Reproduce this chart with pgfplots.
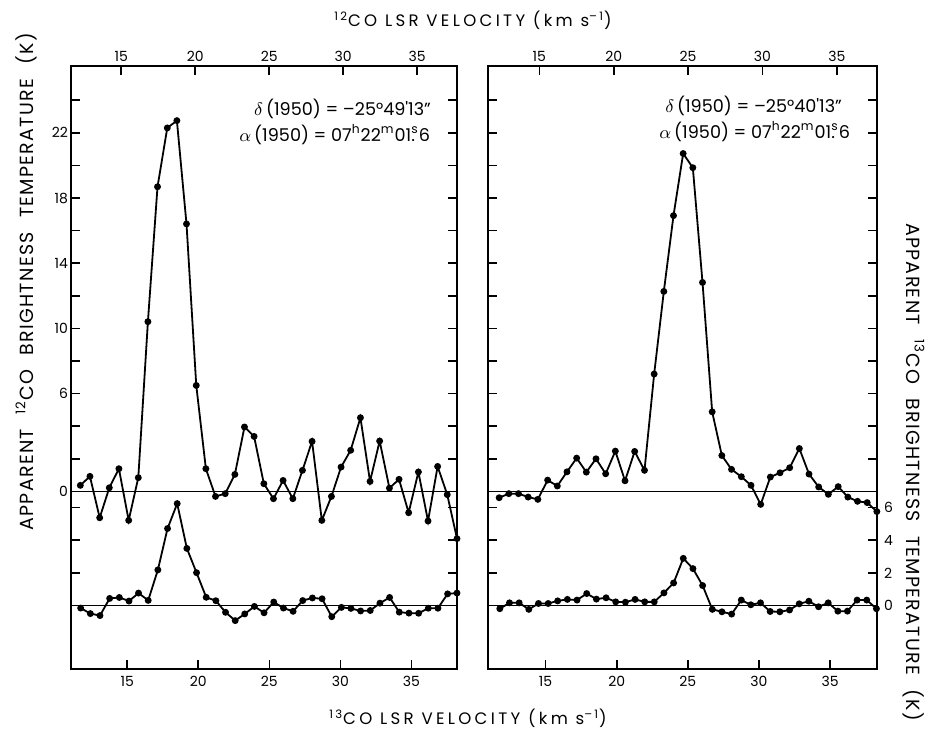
\documentclass[border=0pt]{standalone}
\usepackage{fontspec}
\setmainfont{Poppins}
\newfontfamily\spacedx[LetterSpace=20]{Poppins}
\newfontfamily\spacedy[LetterSpace=7]{Poppins}
\usepackage{pgfplots}
\usepackage{pgfplotstable}
\pgfplotsset{compat=1.18}

% 12CO (left position)
\pgfplotstableread{
v T
12.23 0.37
12.88 0.92
13.54 -1.62
14.19 0.22
14.84 1.39
15.50 -1.78
16.15 0.84
16.80 10.41
17.45 18.69
18.11 22.30
18.76 22.75
19.41 16.41
20.07 6.50
20.72 1.39
21.37 -0.31
22.03 -0.14
22.68 1.04
23.33 3.95
23.98 3.37
24.64 0.47
25.29 -0.45
25.94 0.67
26.60 -0.45
27.25 1.29
27.90 3.07
28.56 -1.78
29.21 -0.31
29.86 1.49
30.51 2.52
31.17 4.52
31.82 0.61
32.47 3.09
33.13 0.20
33.78 0.74
34.43 -1.31
35.09 1.19
35.74 -1.82
36.39 1.53
37.04 -0.20
37.70 -2.90
}\lefttwelve

% 13CO (left position)
\pgfplotstableread{
v T
11.73 -0.16
12.41 -0.50
13.09 -0.62
13.77 0.43
14.45 0.49
15.13 0.27
15.80 0.76
16.48 0.31
17.16 2.18
17.84 4.72
18.52 6.25
19.20 3.50
19.88 2.01
20.56 0.50
21.24 0.29
21.92 -0.42
22.60 -0.93
23.27 -0.52
23.95 -0.06
24.63 -0.45
25.31 0.21
25.99 -0.16
26.67 -0.36
27.35 0.30
28.03 0.46
28.71 0.41
29.39 -0.69
30.07 -0.12
30.74 -0.18
31.42 -0.34
32.10 -0.31
32.78 0.14
33.46 0.49
34.14 -0.41
34.82 -0.47
35.50 -0.48
36.18 -0.17
36.86 -0.17
37.54 0.71
38.20 0.76
}\leftthirteen

% 12CO (right position)
\pgfplotstableread{
v T
12.30 -0.39
12.95 -0.14
13.60 -0.14
14.25 -0.35
14.90 -0.49
15.56 0.69
16.21 0.33
16.86 1.20
17.51 2.04
18.16 1.18
18.81 2.00
19.46 1.08
20.11 2.47
20.76 0.65
21.41 2.45
22.07 1.29
22.72 7.20
23.37 12.27
24.02 16.92
24.67 20.73
25.32 19.86
25.97 12.82
26.62 4.88
27.27 2.20
27.92 1.35
28.58 0.90
29.23 0.37
29.88 -0.80
30.53 0.88
31.18 1.14
31.83 1.45
32.48 2.63
33.13 1.06
33.78 0.27
34.43 -0.18
35.09 0.29
35.74 -0.35
36.39 -0.61
37.04 -0.69
37.69 -1.24
}\righttwelve

% 13CO (right position)
\pgfplotstableread{
v T
11.78 -0.20
12.46 0.16
13.14 0.16
13.82 -0.24
14.50 0.12
15.18 0.12
15.85 0.28
16.53 0.37
17.21 0.33
17.89 0.73
18.57 0.39
19.25 0.47
19.93 0.22
20.61 0.20
21.29 0.37
21.97 0.22
22.64 0.22
23.32 0.77
24.00 1.38
24.68 2.89
25.36 2.26
26.04 1.22
26.72 -0.24
27.40 -0.39
28.08 -0.53
28.76 0.33
29.43 0.04
30.11 0.16
30.79 -0.37
31.47 -0.39
32.15 -0.28
32.83 0.10
33.51 0.26
34.19 -0.08
34.87 0.16
35.55 -0.35
36.22 -0.35
36.90 0.33
37.58 0.33
38.26 -0.20
}\rightthirteen

\newcommand{\tk}{\fontsize{7}{8}\selectfont}
\newcommand{\xl}{\spacedx\fontsize{8.3}{9}\selectfont}
\newcommand{\yl}{\spacedy\fontsize{9.5}{10}\selectfont}
\newcommand{\an}{\fontsize{8.8}{9}\selectfont}
\newcommand{\gap}{\hspace{0.75em}}
% reference pixel -> picture point (0.5pt per pixel, y downward)
\newcommand{\px}[2]{({#1*0.5pt},{-#2*0.5pt})}

\tikzset{zero/.style={black, line width=0.6pt}}
\pgfplotsset{
  spec/.style={
    scale only axis, clip=false,
    ymin=-10.9, ymax=26.1,
    axis line style={line width=0.9pt},
    tick style={line width=0.8pt, black},
    tick align=inside, major tick length=4.5pt,
    /pgf/number format/assume math mode=true,
    ticklabel style={font=\tk},
    xtick={15,20,25,30,35},
  },
  ytwelve/.style={
    ytick={-5,-3,-1,0,2,4,6,8,10,12,14,16,18,20,22,24},
    ytick pos=both,
  },
  spectrum/.style={black, line width=0.9pt, mark=*, mark size=1.25pt},
}

\begin{document}
\begin{tikzpicture}
\useasboundingbox (0,0) rectangle (466.5pt,-367pt);

% ---- left position: 12CO against the top axis
\begin{axis}[spec, ytwelve, at={(35.5pt,-334.5pt)}, anchor=south west,
  width=193pt, height=301.5pt,
  xmin=11.6, xmax=37.7, xtick pos=right, xticklabel pos=right,
  xticklabel style={yshift=-1.5pt},
  yticklabels={,,,0,,,6,,10,,14,,18,,22,}, yticklabel pos=left,
  yticklabel style={xshift=2pt}]
\draw[zero] (axis cs:11.6,0) -- (axis cs:37.7,0);
\addplot[spectrum] table[x=v, y=T] {\lefttwelve};
\end{axis}
% ---- left position: 13CO against the bottom axis, zero at -7
\begin{axis}[spec, at={(35.5pt,-334.5pt)}, anchor=south west,
  width=193pt, height=301.5pt,
  xmin=11.05, xmax=38.2, xtick pos=left, xticklabel pos=left,
  ytick=\empty]
\draw[zero] (axis cs:11.05,-7) -- (axis cs:38.2,-7);
\addplot[spectrum] table[x=v, y expr=\thisrow{T}-7] {\leftthirteen};
\end{axis}

% ---- right position: 12CO against the top axis
\begin{axis}[spec, ytwelve, at={(244pt,-334.5pt)}, anchor=south west,
  width=194.5pt, height=301.5pt,
  xmin=11.55, xmax=37.7, xtick pos=right, xticklabel pos=right,
  xticklabel style={yshift=-1.5pt},
  yticklabels={}]
\draw[zero] (axis cs:11.55,0) -- (axis cs:37.7,0);
\addplot[spectrum] table[x=v, y=T] {\righttwelve};
\end{axis}
% ---- right position: 13CO against the bottom axis, labels on the right
\begin{axis}[spec, at={(244pt,-334.5pt)}, anchor=south west,
  width=194.5pt, height=301.5pt,
  xmin=10.95, xmax=38.3, xtick pos=left, xticklabel pos=left,
  ytick={-7,-5,-3,-1}, yticklabels={0,2,4,6},
  ytick pos=right, yticklabel pos=right]
\draw[zero] (axis cs:10.95,-7) -- (axis cs:38.3,-7);
\addplot[spectrum] table[x=v, y expr=\thisrow{T}-7] {\rightthirteen};
\end{axis}

% axis titles
\node[font=\xl] at \px{473}{20} {\textsuperscript{12}CO LSR VELOCITY (km s\textsuperscript{–1})};
\node[font=\xl] at \px{468}{718} {\textsuperscript{13}CO LSR VELOCITY (km s\textsuperscript{–1})};
\node[font=\yl, rotate=90] at \px{26}{282}
  {APPARENT\gap\textsuperscript{12}CO\gap BRIGHTNESS\gap TEMPERATURE\gap(K)};
\node[font=\yl, rotate=-90] at \px{914}{472}
  {APPARENT\gap\textsuperscript{13}CO\gap BRIGHTNESS\gap TEMPERATURE\gap(K)};

% positions
\node[font=\an, anchor=base east] at \px{438}{115}
  {$\delta$\,(1950) = –25°49\textquotesingle13"};
\node[font=\an, anchor=base east] at \px{437}{141}
  {$\alpha$\,(1950) = 07\textsuperscript{h}22\textsuperscript{m}01\rlap{.}\textsuperscript{s}6};
\node[font=\an, anchor=base east] at \px{849}{112}
  {$\delta$\,(1950) = –25°40\textquotesingle13"};
\node[font=\an, anchor=base east] at \px{857}{138}
  {$\alpha$\,(1950) = 07\textsuperscript{h}22\textsuperscript{m}01\rlap{.}\textsuperscript{s}6};
\end{tikzpicture}
\end{document}
